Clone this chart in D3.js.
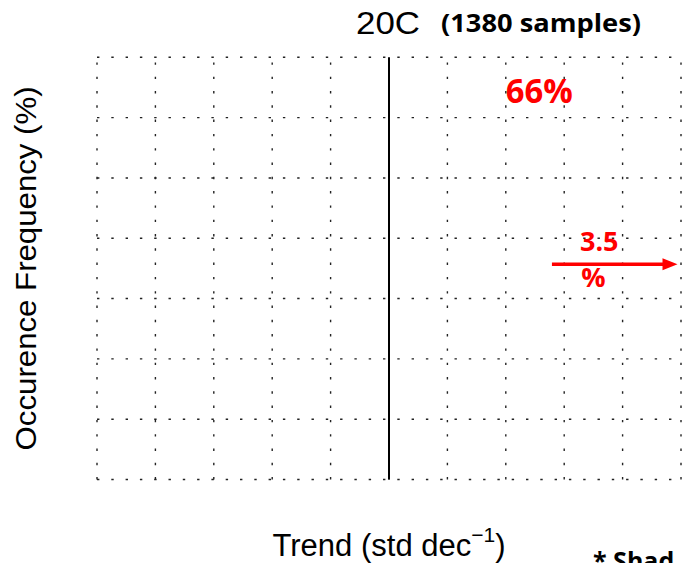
<!DOCTYPE html>
<html>
<head>
<meta charset="utf-8">
<script src="https://cdn.jsdelivr.net/npm/d3@7"></script>
<style>
  html, body { margin: 0; padding: 0; background: #fff; }
  svg { display: block; }
</style>
</head>
<body>
<div id="chart"></div>
<script>
// axis ranges (no tick labels are shown in the figure)
const xDomain = [-0.5, 0.5];
const yDomain = [0, 70];
const xGridValues = d3.range(-0.5, 0.5001, 0.1);
const yGridValues = d3.range(0, 70.001, 10);

// titles
const titleText = '20C';
const samplesText = '(1380 samples)';
const xLabelMain = 'Trend (std dec';
const xLabelSup = '\u22121';
const yLabelText = 'Occurence Frequency (%)';
const footText = '* Shad';

// red annotations, in data units
const pctLabel = { text: '66%', x: 0.2, y: 62.4 };
const shiftLabels = [
  { text: '3.5', x: 0.327, y: 37.9 },
  { text: '%', x: 0.329, y: 31.9 }
];
const shiftArrow = { x0: 0.279, x1: 0.494, y: 35.7 };

const width = 683, height = 563;
const svg = d3.select('#chart').append('svg')
  .attr('width', width)
  .attr('height', height);

const x = d3.scaleLinear().domain(xDomain).range([97, 681]);
const y = d3.scaleLinear().domain(yDomain).range([479.5, 57.3]);

// dotted grid
const grid = svg.append('g')
  .attr('stroke', '#222')
  .attr('stroke-width', 1.4)
  .attr('stroke-dasharray', '2.4,11.9')
  .attr('fill', 'none');

grid.selectAll('.hgrid')
  .data(yGridValues)
  .enter().append('line')
  .attr('class', 'hgrid')
  .attr('x1', x(xDomain[0]))
  .attr('x2', x(xDomain[1]) + 4)
  .attr('y1', d => y(d))
  .attr('y2', d => y(d));

grid.selectAll('.vgrid')
  .data(xGridValues)
  .enter().append('line')
  .attr('class', 'vgrid')
  .attr('x1', d => x(d))
  .attr('x2', d => x(d))
  .attr('y1', y(yDomain[0]))
  .attr('y2', y(yDomain[1]));

// zero line
svg.append('line')
  .attr('x1', x(0)).attr('x2', x(0))
  .attr('y1', y(yDomain[0])).attr('y2', y(yDomain[1]))
  .attr('stroke', '#000')
  .attr('stroke-width', 2);

// title
svg.append('text')
  .attr('x', x(0) - 1)
  .attr('y', 34)
  .attr('text-anchor', 'middle')
  .attr('font-family', 'Liberation Sans, Arial, sans-serif')
  .attr('font-size', 32)
  .attr('textLength', 64)
  .attr('lengthAdjust', 'spacingAndGlyphs')
  .attr('fill', '#000')
  .text(titleText);

svg.append('text')
  .attr('x', 441)
  .attr('y', 32)
  .attr('font-family', 'Open Sans, sans-serif')
  .attr('font-weight', 'bold')
  .attr('font-size', 25)
  .attr('textLength', 200)
  .attr('lengthAdjust', 'spacingAndGlyphs')
  .attr('fill', '#000')
  .text(samplesText);

// x label
const xl = svg.append('text')
  .attr('x', x(0))
  .attr('y', 555.5)
  .attr('text-anchor', 'middle')
  .attr('font-family', 'Liberation Sans, Arial, sans-serif')
  .attr('font-size', 31)
  .attr('fill', '#000');
xl.append('tspan').text(xLabelMain);
xl.append('tspan').attr('font-size', 21).attr('dy', -14).text(xLabelSup);
xl.append('tspan').attr('dy', 14).text(')');

// y label
svg.append('text')
  .attr('transform', `translate(36,${(y(yDomain[0]) + y(yDomain[1])) / 2}) rotate(-90)`)
  .attr('text-anchor', 'middle')
  .attr('font-family', 'Liberation Sans, Arial, sans-serif')
  .attr('font-size', 30)
  .attr('textLength', 364)
  .attr('lengthAdjust', 'spacingAndGlyphs')
  .attr('fill', '#000')
  .text(yLabelText);

// red annotations
svg.append('text')
  .attr('x', x(pctLabel.x))
  .attr('y', y(pctLabel.y))
  .attr('font-family', 'Open Sans, sans-serif')
  .attr('font-weight', 'bold')
  .attr('font-size', 34)
  .attr('textLength', 67)
  .attr('lengthAdjust', 'spacingAndGlyphs')
  .attr('fill', '#ff0000')
  .text(pctLabel.text);

svg.selectAll('.shift')
  .data(shiftLabels)
  .enter().append('text')
  .attr('class', 'shift')
  .attr('x', d => x(d.x))
  .attr('y', d => y(d.y))
  .attr('font-family', 'Open Sans, sans-serif')
  .attr('font-weight', 'bold')
  .attr('font-size', 27)
  .attr('fill', '#ff0000')
  .text(d => d.text);

const ax0 = x(shiftArrow.x0), ax1 = x(shiftArrow.x1), ay = y(shiftArrow.y);
svg.append('line')
  .attr('x1', ax0).attr('x2', ax1 - 12)
  .attr('y1', ay).attr('y2', ay)
  .attr('stroke', '#ff0000')
  .attr('stroke-width', 3.6);
svg.append('path')
  .attr('d', `M${ax1},${ay} L${ax1 - 15},${ay - 6} L${ax1 - 15},${ay + 6} Z`)
  .attr('fill', '#ff0000');

// footnote, cropped by the bottom edge as in the source figure
svg.append('text')
  .attr('x', 593)
  .attr('y', 570)
  .attr('font-family', 'Open Sans, sans-serif')
  .attr('font-weight', 'bold')
  .attr('font-size', 25)
  .attr('fill', '#000')
  .text(footText);
</script>
</body>
</html>
